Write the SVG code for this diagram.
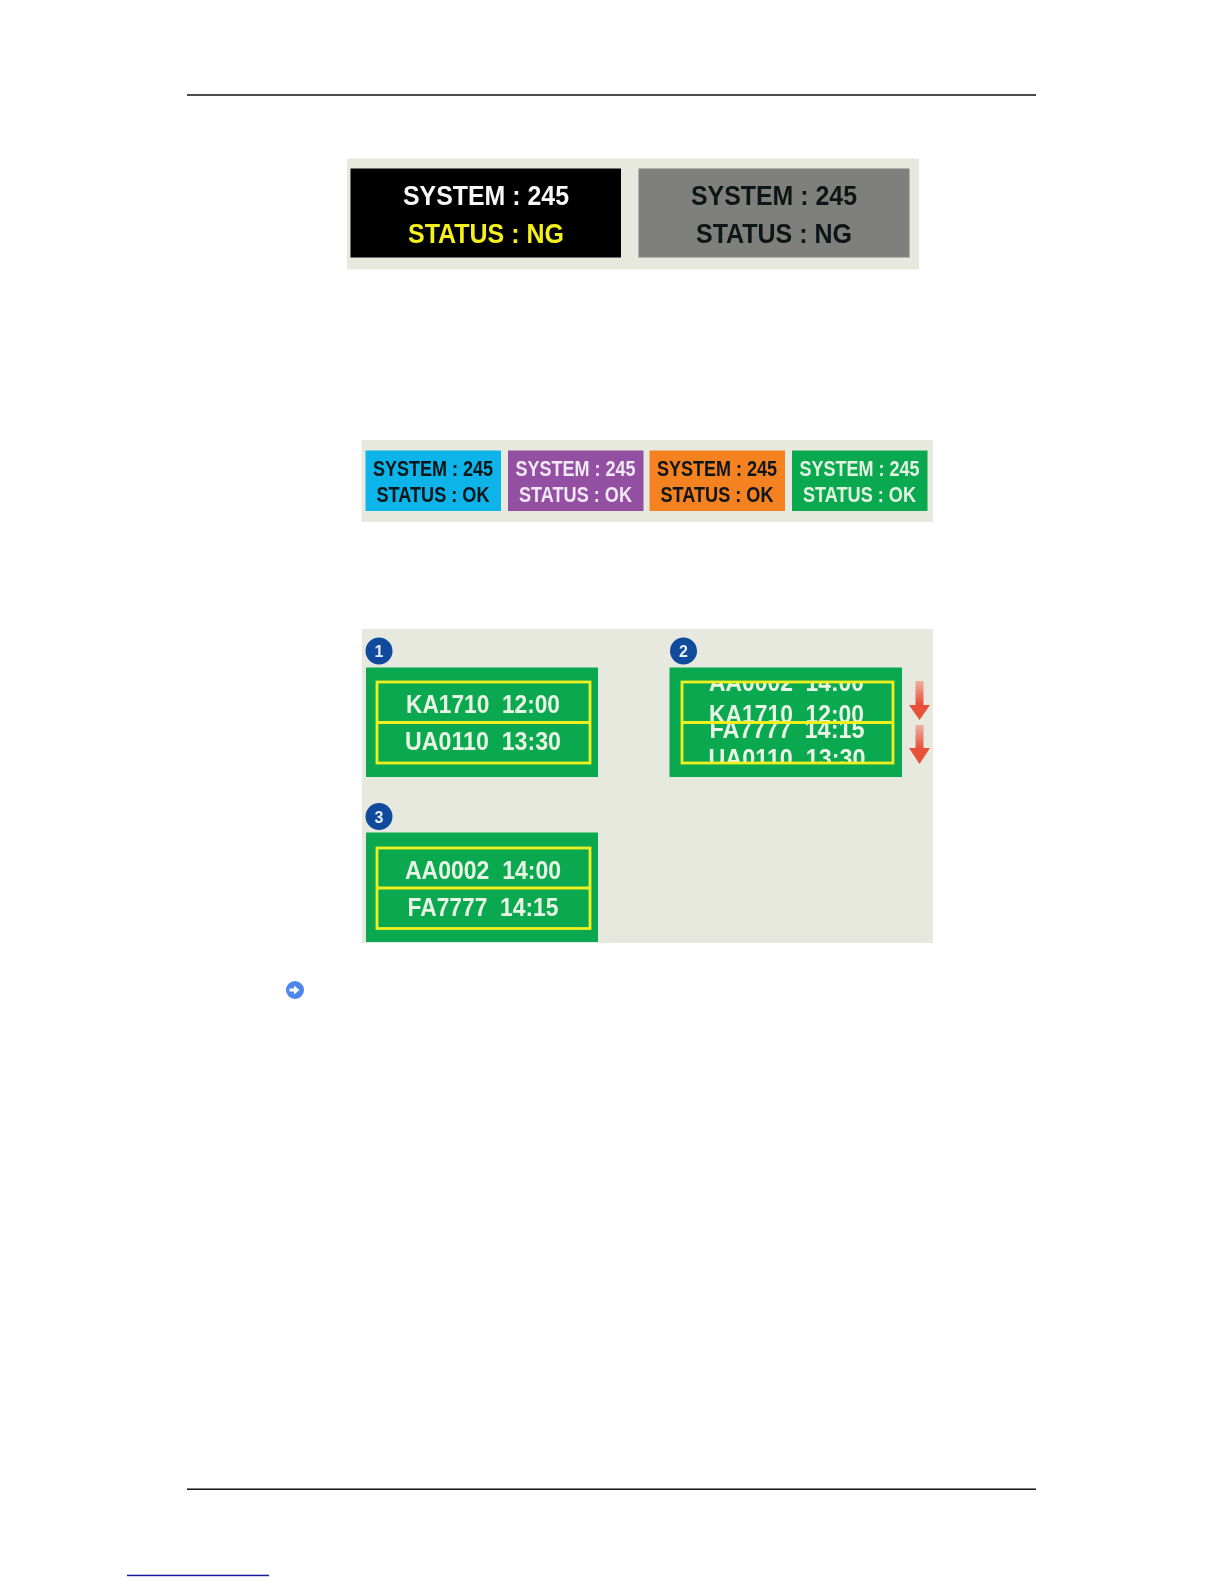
<svg xmlns="http://www.w3.org/2000/svg" width="1224" height="1584" viewBox="0 0 1224 1584">
<defs>
<style>
text{font-family:"Liberation Sans",Arial,sans-serif;font-weight:bold;text-anchor:middle;white-space:pre;filter:url(#soft)}
.big{font-size:28.5px}
.mid{font-size:21.5px}
.fl{font-size:26px;fill:#e8f5e4}
.wh{fill:#f8f8f8}.yl{fill:#f4f01a}.dk{fill:#0e1416}.pl{fill:#f0e8f2}.gl{fill:#e4f3e2}
.panel{fill:#e8e9de}
.green{fill:#0aa84f}
.yb{fill:none;stroke:#f0f01e;stroke-width:2.8}
.badge{fill:#0f4a9c}
.num{font-size:16px;fill:#e8eef6}
.arrow{fill:url(#ag)}
</style>
<filter id="soft" x="-5%" y="-20%" width="110%" height="140%"><feGaussianBlur stdDeviation="0.5"/></filter>
<clipPath id="c1"><rect x="676" y="682" width="222" height="40"/></clipPath>
<clipPath id="c2"><rect x="676" y="723" width="222" height="39"/></clipPath>
<linearGradient id="ag" x1="0" y1="0" x2="0" y2="1"><stop offset="0" stop-color="#eeb0a0"/><stop offset="0.6" stop-color="#e8503a"/></linearGradient>
</defs>
<rect width="1224" height="1584" fill="#fff"/>
<g id="rules">
<rect x="187" y="94.300" width="849" height="1.400" fill="#000"/>
<rect x="187" y="1488.500" width="849" height="1.400" fill="#000"/>
<rect x="127" y="1574.700" width="142" height="1.500" fill="#1a1a9c"/>
</g>
<g id="status-ng">
<rect class="panel" x="347" y="158.500" width="572" height="111"/>
<rect x="350.500" y="168.500" width="270.500" height="89" fill="#000"/>
<rect x="638.500" y="168.500" width="271" height="89" fill="#7f807c"/>
<text class="big wh" x="486" y="205" textLength="166" lengthAdjust="spacingAndGlyphs">SYSTEM : 245</text>
<text class="big yl" x="486" y="243" textLength="156" lengthAdjust="spacingAndGlyphs">STATUS : NG</text>
<text class="big dk" x="774" y="205" textLength="166" lengthAdjust="spacingAndGlyphs">SYSTEM : 245</text>
<text class="big dk" x="774" y="243" textLength="156" lengthAdjust="spacingAndGlyphs">STATUS : NG</text>
</g>
<g id="status-ok">
<rect class="panel" x="361.500" y="440" width="571.500" height="82"/>
<rect x="365.500" y="450.500" width="135.500" height="60.500" fill="#0cb4ea"/>
<rect x="508" y="450.500" width="135.500" height="60.500" fill="#9350a2"/>
<rect x="649.500" y="450.500" width="135.500" height="60.500" fill="#f58220"/>
<rect x="792" y="450.500" width="135.500" height="60.500" fill="#0aa84f"/>
<text class="mid dk" x="433" y="476" textLength="120" lengthAdjust="spacingAndGlyphs">SYSTEM : 245</text>
<text class="mid dk" x="433" y="502" textLength="113" lengthAdjust="spacingAndGlyphs">STATUS : OK</text>
<text class="mid pl" x="575.500" y="476" textLength="120" lengthAdjust="spacingAndGlyphs">SYSTEM : 245</text>
<text class="mid pl" x="575.500" y="502" textLength="113" lengthAdjust="spacingAndGlyphs">STATUS : OK</text>
<text class="mid dk" x="717" y="476" textLength="120" lengthAdjust="spacingAndGlyphs">SYSTEM : 245</text>
<text class="mid dk" x="717" y="502" textLength="113" lengthAdjust="spacingAndGlyphs">STATUS : OK</text>
<text class="mid gl" x="859.500" y="476" textLength="120" lengthAdjust="spacingAndGlyphs">SYSTEM : 245</text>
<text class="mid gl" x="859.500" y="502" textLength="113" lengthAdjust="spacingAndGlyphs">STATUS : OK</text>
</g>
<rect id="flight-panel" class="panel" x="362" y="629" width="571" height="314"/>
<g id="step-1">
<circle class="badge" cx="379" cy="651" r="13.500"/>
<text class="num" x="379" y="657">1</text>
<rect class="green" x="366" y="667.500" width="232" height="109.500"/>
<rect class="yb" x="377" y="682" width="213" height="81"/>
<line class="yb" x1="377" y1="722.500" x2="590" y2="722.500"/>
<text class="fl" x="483" y="713" textLength="154" lengthAdjust="spacingAndGlyphs">KA1710  12:00</text>
<text class="fl" x="483" y="750" textLength="156" lengthAdjust="spacingAndGlyphs">UA0110  13:30</text>
</g>
<g id="step-2">
<circle class="badge" cx="683.500" cy="651" r="13.500"/>
<text class="num" x="683.500" y="657">2</text>
<rect class="green" x="669.500" y="667.500" width="232.500" height="109.500"/>
<g clip-path="url(#c1)">
<text class="fl" x="786.500" y="691" textLength="155" lengthAdjust="spacingAndGlyphs">AA0002  14:00</text>
<text class="fl" x="786.500" y="723" textLength="155" lengthAdjust="spacingAndGlyphs">KA1710  12:00</text>
</g>
<g clip-path="url(#c2)">
<text class="fl" x="787" y="738" textLength="155" lengthAdjust="spacingAndGlyphs">FA7777  14:15</text>
<text class="fl" x="787" y="767" textLength="157" lengthAdjust="spacingAndGlyphs">UA0110  13:30</text>
</g>
<rect class="yb" x="682" y="682" width="211" height="81"/>
<line class="yb" x1="682" y1="722.500" x2="893" y2="722.500"/>
<path class="arrow" d="M915.500 681H923.500V705H930L919.500 720L909 705H915.500Z"/>
<path class="arrow" d="M915.500 725H923.500V748H930L919.500 764L909 748H915.500Z"/>
</g>
<g id="step-3">
<circle class="badge" cx="379" cy="816.500" r="13.500"/>
<text class="num" x="379" y="822.500">3</text>
<rect class="green" x="366" y="832.500" width="232" height="109.500"/>
<rect class="yb" x="377" y="848" width="213" height="80.500"/>
<line class="yb" x1="377" y1="888" x2="590" y2="888"/>
<text class="fl" x="483" y="879" textLength="156" lengthAdjust="spacingAndGlyphs">AA0002  14:00</text>
<text class="fl" x="483" y="916" textLength="151" lengthAdjust="spacingAndGlyphs">FA7777  14:15</text>
</g>
<g id="note-icon">
<circle cx="295" cy="990" r="9" fill="#4d86ec"/>
<path d="M289.500 988.500H294V985.500L299.500 990L294 994.500V991.500H289.500Z" fill="#fff"/>
</g>
</svg>
